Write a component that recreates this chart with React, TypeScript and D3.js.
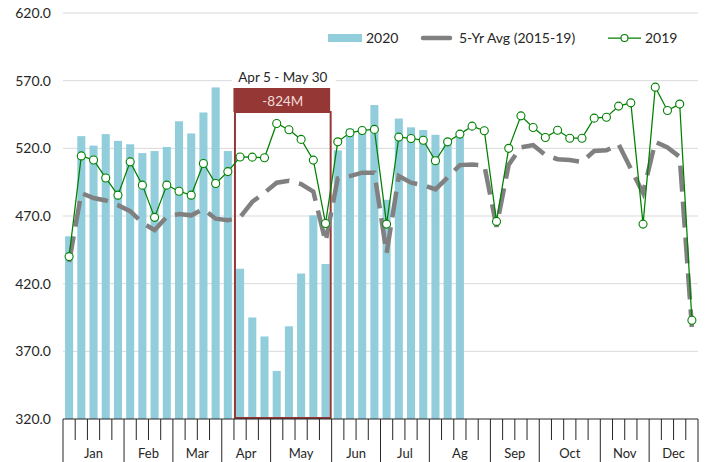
import React from 'react'
import { scaleBand, scaleLinear, line, format } from 'd3'

const months = ['Jan', 'Feb', 'Mar', 'Apr', 'May', 'Jun', 'Jul', 'Ag', 'Sep', 'Oct', 'Nov', 'Dec']
const weeksPerMonth = [5, 4, 4, 4, 5, 4, 4, 5, 4, 5, 4, 4]

const yTicks = [320, 370, 420, 470, 520, 570, 620]

// weekly values, 2020 only through early August
const sales2020 = [
  455, 529, 522, 530.5, 525.5, 523, 516.5, 518, 521, 540, 531, 546.5, 565, 518,
  431, 395, 381, 355.5, 388.5, 427.5, 470.5, 434.5,
  518.5, 534.5, 534, 552, 482, 542, 535.5, 533.5, 530, 526, 528.5,
]

const sales2019 = [
  440, 514.4, 511.4, 498.1, 485.4, 510, 492.8, 469, 492.8, 488.3, 485.4, 508.8, 494, 502.8,
  513.6, 513.5, 513, 538.4, 533.7, 526.6, 511.3, 464.5, 524.8, 531.5, 533.2, 534, 464,
  528.3, 527.3, 526, 510.8, 524.8, 530.5, 536.4, 533, 466, 520, 544, 535.4, 528, 533.4,
  527.5, 527.5, 542.3, 543, 551.2, 553.6, 464, 565.2, 548, 552.7, 393,
]

const avg5yr = [
  436, 487, 483.3, 481.5, 478, 473.6, 465, 459.5, 469.4, 471.4, 470.5, 475, 468, 466.8,
  469, 480.5, 487.2, 494.6, 496, 493.6, 488, 451, 497.8, 499.5, 502, 502, 442.4,
  499.5, 494.6, 492.8, 489.6, 498.5, 507.6, 508, 507.5, 462, 508, 520.7, 522.4, 515, 512,
  511.3, 510, 518, 518.5, 523, 505, 487, 524.8, 520.6, 513.7, 388,
]

const boxStart = 14
const boxEnd = 22
const boxLabel = 'Apr 5 - May 30'
const boxValue = '-824M'

const W = 705
const H = 462
const FONT = 'Lato, "Open Sans", sans-serif'

const App = () => {
  const weeks = sales2019.map((_, i) => i)
  const x = scaleBand<number>().domain(weeks).range([63, 698]).paddingInner(0.34).paddingOuter(0.17)
  const y = scaleLinear().domain([320, 620]).range([419, 13])
  const step = x.step()
  const x0 = x.range()[0]
  const edge = (i: number) => x0 + i * step
  const cx = (i: number) => (x(i) as number) + x.bandwidth() / 2

  const ln = line<number>().x((d, i) => cx(i)).y(d => y(d))

  let acc = 0
  const monthSpans = weeksPerMonth.map((n, m) => {
    const s = acc
    acc += n
    return { name: months[m], start: s, end: acc }
  })
  const majorSet = new Set(monthSpans.map(d => d.start).concat([acc]))

  const bx0 = edge(boxStart)
  const bx1 = edge(boxEnd)
  const bmid = (bx0 + bx1) / 2

  return (
    <svg width={W} height={H} style={{ position: 'absolute', left: 0, top: 0 }} fontFamily={FONT}>
      <rect width={W} height={H} fill="#fff" />
      {yTicks.map(t => (
        <g key={t}>
          {t > 320 && <line x1={63} x2={698} y1={y(t)} y2={y(t)} stroke="#d9d9d9" strokeWidth={1} />}
          <text x={51} y={y(t) + 5} textAnchor="end" fontSize={14} fill="#262626">{format('.1f')(t)}</text>
        </g>
      ))}

      {sales2020.map((v, i) => (
        <rect key={i} x={x(i)} y={y(v)} width={x.bandwidth()} height={y(320) - y(v)} fill="#92cddc" />
      ))}

      {/* annotation box */}
      <rect x={bx0 + 1} y={112} width={bx1 - bx0 - 2} height={y(320) - 112 - 1} fill="none" stroke="#953735" strokeWidth={2} />

      <path d={ln(avg5yr) || ''} fill="none" stroke="#808080" strokeWidth={4.5} strokeDasharray="26 10" />
      <path d={ln(sales2019) || ''} fill="none" stroke="#008000" strokeWidth={1.25} />
      {sales2019.map((v, i) => (
        <circle key={i} cx={cx(i)} cy={y(v)} r={4} fill="#fff" stroke="#008000" strokeWidth={1.1} />
      ))}

      <rect x={bx0 - 2} y={68} width={bx1 - bx0 + 6} height={19} fill="#fff" />
      <text x={bmid} y={82} textAnchor="middle" fontSize={13.5} fill="#262626">{boxLabel}</text>
      <rect x={bx0 - 0.5} y={88} width={bx1 - bx0 - 1} height={24} fill="#953735" />
      <text x={bmid} y={106} textAnchor="middle" fontSize={13.5} fill="#f2dcdb">{boxValue}</text>

      {/* x axis */}
      <line x1={63} x2={698} y1={419} y2={419} stroke="#262626" strokeWidth={1.2} />
      {Array.from({ length: acc + 1 }, (_, i) => (
        <line key={i} x1={edge(i)} x2={edge(i)} y1={419} y2={majorSet.has(i) ? H : 440} stroke="#262626" strokeWidth={1} />
      ))}
      {monthSpans.map(d => (
        <text key={d.name} x={(edge(d.start) + edge(d.end)) / 2} y={458} textAnchor="middle" fontSize={13} fill="#262626">{d.name}</text>
      ))}

      {/* legend */}
      <rect x={328} y={34} width={34} height={8} fill="#92cddc" />
      <text x={366} y={43} fontSize={14} fill="#262626">2020</text>
      <line x1={423} x2={450} y1={38} y2={38} stroke="#808080" strokeWidth={4.5} strokeLinecap="round" />
      <text x={459} y={43} fontSize={14} fill="#262626">5-Yr Avg (2015-19)</text>
      <line x1={608} x2={641} y1={38} y2={38} stroke="#008000" strokeWidth={1.25} />
      <circle cx={624.5} cy={38} r={3.5} fill="#fff" stroke="#008000" strokeWidth={1.1} />
      <text x={645} y={43} fontSize={14} fill="#262626">2019</text>
    </svg>
  )
}

export default App
